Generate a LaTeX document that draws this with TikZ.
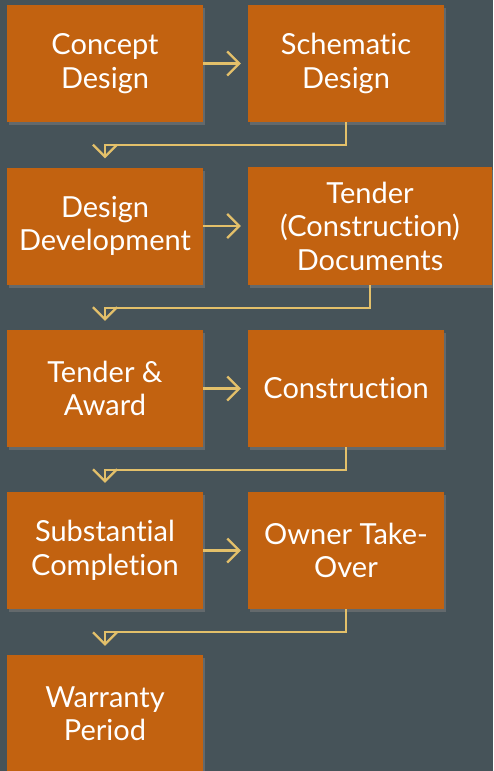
\documentclass[tikz,border=0pt]{standalone}
\usepackage{fontspec}
\setmainfont{Lato}[Ligatures=NoCommon]
\usetikzlibrary{arrows.meta, shadows}

\definecolor{slate}{HTML}{465359}
\definecolor{rust}{HTML}{C26210}
\definecolor{sand}{HTML}{E3C06A}

\begin{document}
\begin{tikzpicture}[
    x=1pt, y=1pt,
    stage/.style={fill=rust, text=white, align=center, inner sep=0pt,
        minimum width=196pt, minimum height=117pt,
        font=\fontsize{29}{33.5}\selectfont,
        drop shadow={opacity=0.5, shadow xshift=2pt, shadow yshift=-3pt}},
    wide/.style={minimum width=244pt, minimum height=118pt},
    flow/.style={sand, line width=2.2pt, -{Straight Barb[length=12pt, width=24pt]}}
]

% Background
\fill[slate] (0,0) rectangle (493,-771);
\useasboundingbox (0,0) rectangle (493,-771);
\clip (0,0) rectangle (493,-771);

% =========================
% Stages
% =========================
\node[stage] (cd) at (105,-63.5) {Concept\\Design};
\node[stage] (sd) at (346,-63.5) {Schematic\\Design};

\node[stage] (dd) at (105,-226) {Design\\Development};
\node[stage, wide] (td) at (370,-226) {Tender\\(Construction)\\Documents};

\node[stage] (ta) at (105,-388.5) {Tender \&\\Award};
\node[stage] (cn) at (346,-388.5) {Construction};

\node[stage] (sc) at (105,-550.5) {Substantial\\Completion};
\node[stage] (ot) at (346,-550.5) {Owner Take-\\Over};

\node[stage] (wp) at (105,-713.5) {Warranty\\Period};

% =========================
% Arrows
% =========================
% across each row
\foreach \a/\b in {cd/sd, dd/td, ta/cn, sc/ot}
{
    \draw[flow, shorten >=7pt] (\a.east) -- (\b.west);
}

% back to the start of the next row
\foreach \a/\b in {sd/dd, td/ta, cn/sc, ot/wp}
{
    \draw[flow] (\a.south) -- ++(0,-22.5) -| ([yshift=9]\b.north);
}

\end{tikzpicture}
\end{document}
